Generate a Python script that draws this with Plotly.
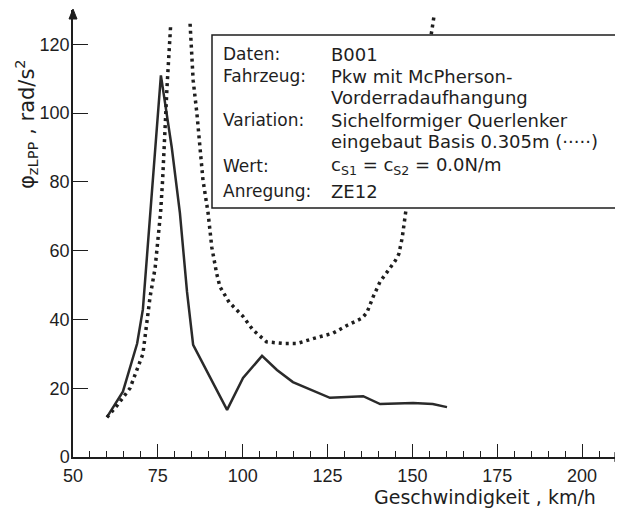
import plotly.graph_objects as go

# ---- data ----
speed_base = [60, 64.7, 68.9, 70.6, 75.9, 79.1, 81.5, 83.6, 85.4, 95.4, 100.1, 105.7,
              110.1, 114.8, 125.7, 130, 135.5, 140.5, 150.2, 156, 160.2]
accel_base = [11.6, 19, 33, 43, 111, 90, 71, 48, 32.6, 13.7, 23, 29.4,
              25.3, 21.8, 17.2, 17.5, 17.7, 15.4, 15.7, 15.4, 14.5]

speed_var = [60, 63, 66.8, 70.6, 72.7, 74.2, 75, 75.8, 76.4, 76.8, 77.4, 77.7, 78.8, None,
             84.5, 85.4, 86.5, 87.4, 88.3, 89.8, 90.9, 92.3, 93.3, 96, 100, 103, 107, 112,
             116, 121, 126.6, 131, 135.2, 136.6, 138.4, 140.5, 142, 143.4, 144.9, 146, 147,
             147.9, 152, 156.5]
accel_var = [11.5, 15, 20, 30, 46.5, 55, 63, 71, 80.5, 90, 100, 107.6, 126, None,
             126, 109.6, 100, 90, 80.5, 71, 61, 53.5, 49.5, 45, 41, 37, 33.5, 33,
             33, 34.5, 36, 38.4, 40.4, 42, 46.5, 51, 53, 55, 57, 59, 63.7,
             70.3, 100, 129]

x_ticks = [50, 75, 100, 125, 150, 175, 200]
y_ticks = [0, 20, 40, 60, 80, 100, 120]

info_labels = ["Daten:", "Fahrzeug:", "", "Variation:", "", "Wert:", "Anregung:"]
info_values = ["B001", "Pkw mit McPherson-", "Vorderradaufhangung",
               "Sichelformiger Querlenker", "eingebaut Basis 0.305m (·····)",
               "c<sub>S1</sub> = c<sub>S2</sub> = 0.0N/m", "ZE12"]

y_title = "φ<sub>zLPP</sub> , rad/s<sup>2</sup>"
x_title = "Geschwindigkeit , km/h"

# ---- layout geometry (page pixels; page body has an 8px margin) ----
OFF = 8
W, H = 623 - OFF, 512 - OFF
AX_L, AX_R, AX_T, AX_B = 73, 616, 10, 457          # plot area in page pixels
ML, MT = AX_L - OFF, AX_T - OFF
MR = W - (AX_R - OFF)
MB = H - (AX_B - OFF)
PW, PH = AX_R - AX_L, AX_B - AX_T
INK = "#1e1e1e"
FONT = "DejaVu Sans"
TICKFONT = "Liberation Sans"


def px(x):
    return (x - AX_L) / PW


def py(y):
    return (AX_B - y) / PH


fig = go.Figure()
fig.add_trace(go.Scatter(x=speed_base, y=accel_base, mode="lines",
                         line=dict(color="#2a2a2a", width=2.5),
                         showlegend=False, hoverinfo="skip"))
fig.add_trace(go.Scatter(x=speed_var, y=accel_var, mode="lines", connectgaps=False,
                         line=dict(color=INK, width=3.5, dash="3px,4px"),
                         showlegend=False, hoverinfo="skip"))

shapes = []
shapes.append(dict(type="rect", xref="paper", yref="paper",
                   x0=px(212), x1=px(621), y0=py(208), y1=py(35),
                   fillcolor="white", line=dict(color=INK, width=1.5), layer="above"))
shapes.append(dict(type="path", xref="paper", yref="paper",
                   path=f"M {px(69)} {py(19)} L {px(77)} {py(19)} L {px(73)} {py(9)} Z",
                   fillcolor=INK, line=dict(color=INK, width=1)))
shapes.append(dict(type="path", xref="paper", yref="paper",
                   path=f"M {px(615)} {py(453)} L {px(622)} {py(457)} L {px(615)} {py(461)} Z",
                   fillcolor="white", line=dict(color=INK, width=1.2)))

ann = []
rows_y = [54, 76, 97, 120, 141, 166, 191]
for lab, val, yy in zip(info_labels, info_values, rows_y):
    if lab:
        ann.append(dict(text=lab, xref="paper", yref="paper", x=px(221), y=py(yy),
                        xanchor="left", yanchor="middle", showarrow=False,
                        font=dict(family=FONT, size=17, color=INK)))
    ann.append(dict(text=val, xref="paper", yref="paper", x=px(329), y=py(yy),
                    xanchor="left", yanchor="middle", showarrow=False,
                    font=dict(family=FONT, size=18, color=INK)))

ann.append(dict(text=y_title, xref="paper", yref="paper", x=px(26), y=py(124),
                xanchor="center", yanchor="middle", textangle=-90, showarrow=False,
                font=dict(family=FONT, size=21, color=INK)))
ann.append(dict(text=x_title, xref="paper", yref="paper", x=px(598), y=py(497),
                xanchor="right", yanchor="middle", showarrow=False,
                font=dict(family=FONT, size=19, color=INK)))

fig.update_layout(
    width=W, height=H, margin=dict(l=ML, r=MR, t=MT, b=MB),
    paper_bgcolor="white", plot_bgcolor="white",
    shapes=shapes, annotations=ann,
    font=dict(family=TICKFONT, size=17, color=INK),
)
fig.update_xaxes(range=[50, 210], showgrid=False, zeroline=False,
                 showline=True, linecolor=INK, linewidth=1.5,
                 tickmode="array", tickvals=x_ticks, ticktext=[str(v) for v in x_ticks],
                 ticks="inside", ticklen=13, tickwidth=1, tickcolor=INK,
                 minor=dict(dtick=5, tick0=50, ticks="inside", ticklen=6,
                            tickwidth=1, tickcolor=INK, showgrid=False),
                 ticklabelstandoff=2,
                 tickfont=dict(family=TICKFONT, size=18, color=INK))
fig.update_yaxes(range=[0, 130], showgrid=False, zeroline=False,
                 showline=True, linecolor=INK, linewidth=1.5,
                 tickmode="array", tickvals=y_ticks, ticktext=[str(v) for v in y_ticks],
                 ticks="inside", ticklen=15, tickwidth=1, tickcolor=INK,
                 ticklabelstandoff=-2,
                 tickfont=dict(family=TICKFONT, size=18, color=INK))

fig.write_html("out.html")
